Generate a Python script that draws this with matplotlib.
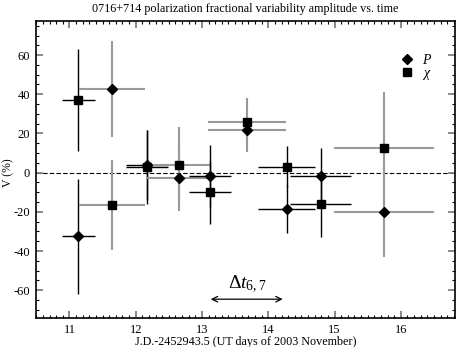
import numpy as np
import matplotlib
matplotlib.use("Agg")
import matplotlib.pyplot as plt
from matplotlib.ticker import MultipleLocator

plt.rcParams['font.family'] = ['Liberation Serif', 'DejaVu Serif']
plt.rcParams['mathtext.fontset'] = 'custom'
plt.rcParams['mathtext.rm'] = 'Liberation Serif'
plt.rcParams['mathtext.it'] = 'Liberation Serif:italic'
plt.rcParams['axes.unicode_minus'] = False

# epochs (days) and half-widths of the time bins
t = [11.135, 11.638, 12.17, 12.65, 13.12, 13.674, 14.28, 14.795, 15.745]
dt = [0.25, 0.5, 0.31, 0.49, 0.32, 0.59, 0.43, 0.46, 0.76]

# variability amplitude of P (diamonds) and chi (squares), in %
P = [-32.5, 42.5, 3.8, -2.8, -1.7, 21.6, -18.4, -1.5, -20.3]
P_err = [29.5, 24.5, 18.0, 17.0, 15.6, 11.1, 12.2, 14.3, 23.0]
chi = [37.2, -16.5, 2.9, 4.1, -10.0, 25.8, 3.1, -16.2, 12.4]
chi_err = [26.0, 23.0, 19.0, 19.0, 16.0, 12.3, 10.5, 16.7, 29.0]

bar_col = ['black', '0.6', 'black', '0.6', 'black', '0.6', 'black', 'black', '0.6']

fig = plt.figure(figsize=(4.63, 3.47), dpi=100)
ax = fig.add_axes([0.077, 0.083, 0.906, 0.857])

for i in range(len(t)):
    lw = 1.0 if bar_col[i] == 'black' else 1.5
    ax.errorbar(t[i], chi[i], xerr=dt[i], yerr=chi_err[i], fmt='none',
                ecolor=bar_col[i], elinewidth=lw, capsize=0, zorder=2)
    ax.errorbar(t[i], P[i], xerr=dt[i], yerr=P_err[i], fmt='none',
                ecolor=bar_col[i], elinewidth=lw, capsize=0, zorder=2)

ax.plot(t, P, 'D', color='black', ms=4.8, zorder=3, label=r'$P$')
ax.plot(t, chi, 's', color='black', ms=5.8, zorder=3, label=r'$\chi$')

ax.axhline(0, color='black', ls='--', lw=0.8, dashes=(4, 2), zorder=1)

# time lag arrow
ax.annotate('', xy=(13.09, -64.6), xytext=(14.26, -64.6),
            arrowprops=dict(arrowstyle='<->', lw=0.9, color='black'))
ax.text(13.68, -59, r'$\Delta t_{\mathrm{6,7}}$', fontsize=14, ha='center', va='baseline')

ax.set_xlim(10.49, 16.82)
ax.set_ylim(-74.3, 77.5)
ax.xaxis.set_major_locator(MultipleLocator(1))
ax.xaxis.set_minor_locator(MultipleLocator(0.1))
ax.yaxis.set_major_locator(MultipleLocator(20))
ax.yaxis.set_minor_locator(MultipleLocator(5))
ax.set_yticks([-60, -40, -20, 0, 20, 40, 60])
ax.tick_params(which='both', direction='in', top=True, right=True, labelsize=9)
ax.tick_params(which='major', length=5, width=1.3, color='0.5', pad=4)
ax.tick_params(which='minor', length=2.5, width=0.8, color='black')
for s in ax.spines.values():
    s.set_linewidth(1.2)

ax.set_xlabel('J.D.-2452943.5 (UT days of 2003 November)', fontsize=8.7, labelpad=0)
ax.set_ylabel('V (%)', fontsize=8.5)
ax.yaxis.set_label_coords(-0.052, 0.49)
ax.set_title('0716+714 polarization fractional variability amplitude vs. time',
             fontsize=8.7, pad=6)

ax.legend(loc='upper right', bbox_to_anchor=(0.975, 0.935), frameon=False,
          fontsize=10, handletextpad=0.7, labelspacing=0.0, handlelength=0.8)

fig.savefig('out.png', dpi=100)
